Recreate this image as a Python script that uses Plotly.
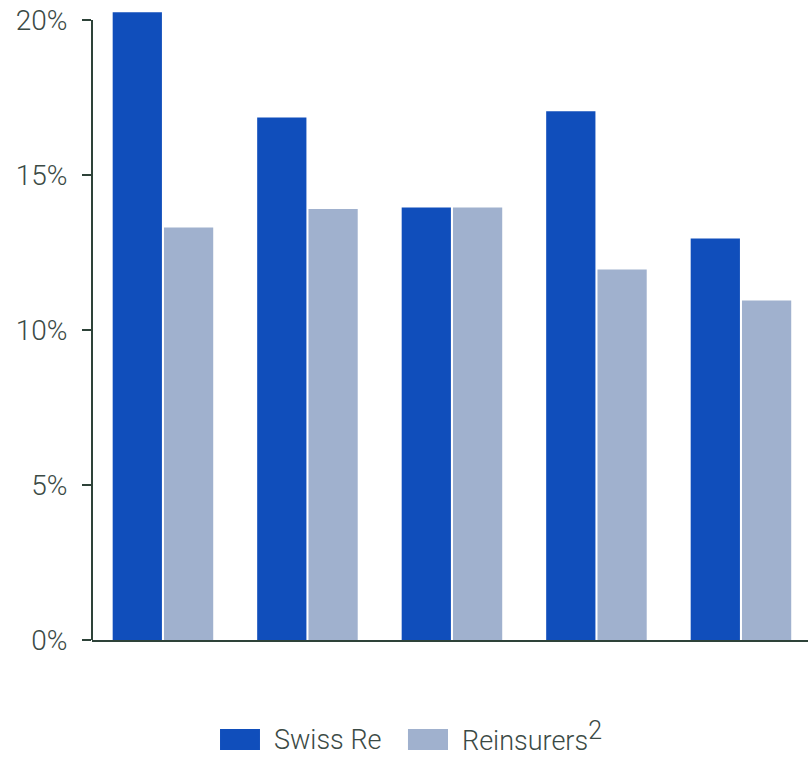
import plotly.graph_objects as go

categories = ["A", "B", "C", "D", "E"]
swiss_re = [20.25, 16.85, 13.95, 17.05, 12.95]
reinsurers = [13.3, 13.9, 13.95, 11.95, 10.95]
tick_vals = [0, 5, 10, 15, 20]
tick_text = ["0%", "5%", "10%", "15%", "20%"]
series_names = ["Swiss Re", "Reinsurers<sup><span style='font-size:25px'>2</span></sup>"]

C_SR = "#104EBB"
C_RE = "#A0B1CE"
TXT = "#3B4A45"
AX = "#2E4339"
FONT = "Roboto"

fig = go.Figure()
fig.add_trace(go.Bar(x=categories, y=swiss_re, name="Swiss Re",
                     marker=dict(color=C_SR, line=dict(width=0))))
fig.add_trace(go.Bar(x=categories, y=reinsurers, name="Reinsurers",
                     marker=dict(color=C_RE, line=dict(width=0))))

fig.update_layout(
    width=808, height=761,
    margin=dict(l=92, r=0, t=5, b=121),
    paper_bgcolor="white", plot_bgcolor="white",
    barmode="group", bargap=0.29, bargroupgap=0.04,
    showlegend=False,
    font=dict(family=FONT, color=TXT, size=27, weight=300),
)
fig.update_xaxes(
    range=[-0.491, 4.464], showticklabels=False, ticks="",
    showline=True, linecolor=AX, linewidth=2, showgrid=False, zeroline=False,
)
fig.update_yaxes(
    range=[0, 20.48], tickvals=tick_vals, ticktext=tick_text,
    ticks="outside", ticklen=9, tickwidth=2, tickcolor=AX,
    ticklabelstandoff=9,
    tickfont=dict(family=FONT, color=TXT, size=28, weight=300),
    showline=False, showgrid=False, zeroline=False,
)
# y axis line only up to the 20% tick
fig.add_shape(type="line", xref="paper", yref="y", x0=0, x1=0, y0=0, y1=tick_vals[-1],
              line=dict(color=AX, width=2))

# legend
legend_items = [(series_names[0], C_SR, 0.1788, 0.2346, 0.2514, -0.1575),
                (series_names[1], C_RE, 0.4413, 0.4972, 0.514, -0.1525)]
for name, col, x0, x1, xt, yt in legend_items:
    fig.add_shape(type="rect", xref="paper", yref="paper", x0=x0, x1=x1,
                  y0=-0.1732, y1=-0.1402, fillcolor=col, line=dict(width=0))
    fig.add_annotation(xref="paper", yref="paper", x=xt, y=yt, text=name,
                       showarrow=False, xanchor="left", yanchor="middle",
                       font=dict(family=FONT, color=TXT, size=27, weight=300))

fig.write_html("out.html")
